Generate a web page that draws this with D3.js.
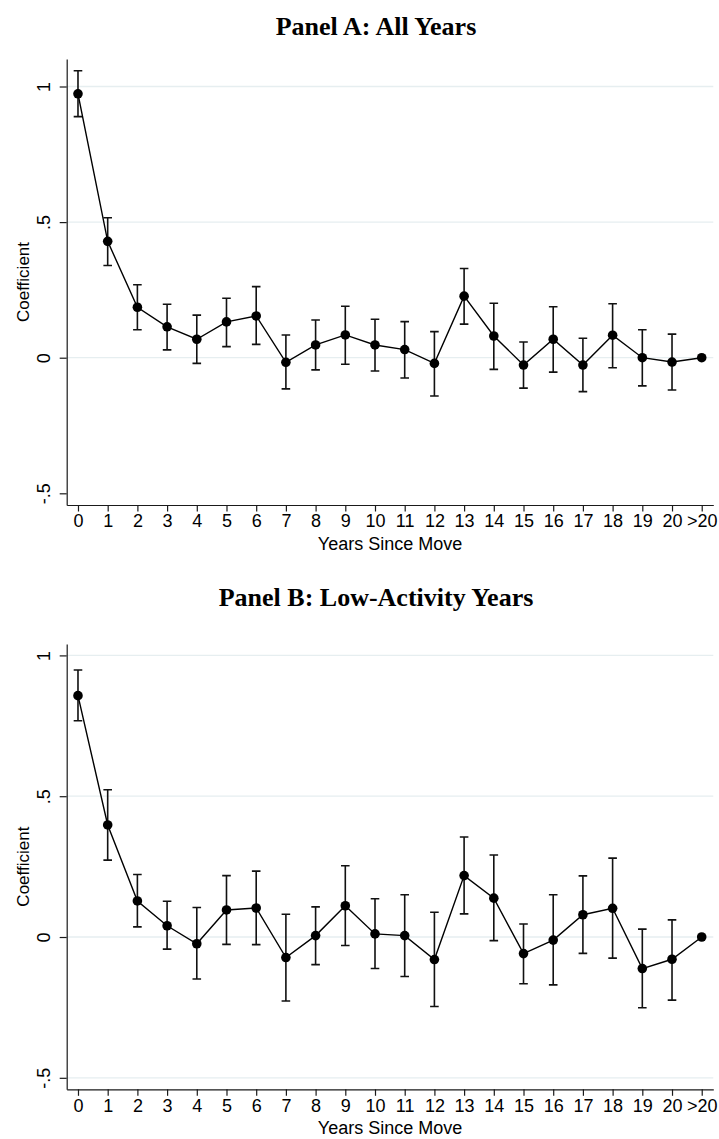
<!DOCTYPE html>
<html>
<head>
<meta charset="utf-8">
<script src="https://cdn.jsdelivr.net/npm/d3@7"></script>
<style>
  html, body { margin: 0; padding: 0; background: #fff; }
  svg { display: block; }
</style>
</head>
<body>
<svg id="chart" width="719" height="1139"></svg>
<script>
// ---- data ----
const categories = ["0","1","2","3","4","5","6","7","8","9","10","11","12","13","14","15","16","17","18","19","20",">20"];

const panelTitles = ["Panel A: All Years", "Panel B: Low-Activity Years"];

const panelA_coef = [0.973, 0.429, 0.186, 0.114, 0.068, 0.132, 0.154, -0.017, 0.047, 0.084, 0.047, 0.030, -0.021, 0.227, 0.080, -0.027, 0.068, -0.027, 0.083, 0.000, -0.016, 0];
const panelA_hi   = [1.058, 0.516, 0.269, 0.197, 0.157, 0.219, 0.262, 0.084, 0.139, 0.190, 0.142, 0.133, 0.096, 0.329, 0.201, 0.058, 0.188, 0.072, 0.199, 0.103, 0.087, null];
const panelA_lo   = [0.889, 0.340, 0.103, 0.029, -0.021, 0.041, 0.049, -0.115, -0.045, -0.024, -0.049, -0.075, -0.141, 0.124, -0.043, -0.112, -0.053, -0.125, -0.037, -0.104, -0.119, null];

const panelB_coef = [0.857, 0.398, 0.128, 0.040, -0.024, 0.096, 0.103, -0.073, 0.005, 0.111, 0.011, 0.005, -0.080, 0.218, 0.138, -0.059, -0.011, 0.079, 0.102, -0.112, -0.079, 0];
const panelB_hi   = [0.948, 0.523, 0.222, 0.127, 0.105, 0.218, 0.234, 0.081, 0.107, 0.253, 0.136, 0.150, 0.088, 0.355, 0.291, 0.046, 0.150, 0.217, 0.280, 0.028, 0.061, null];
const panelB_lo   = [0.768, 0.273, 0.036, -0.043, -0.149, -0.026, -0.027, -0.227, -0.098, -0.030, -0.112, -0.140, -0.247, 0.082, -0.013, -0.166, -0.170, -0.058, -0.075, -0.251, -0.224, null];

const yTickValues = [-0.5, 0, 0.5, 1];
const yTickLabels = ["-.5", "0", ".5", "1"];
const xAxisTitle = "Years Since Move";
const yAxisTitle = "Coefficient";

// ---- layout ----
const svg = d3.select("#chart");
const left = 66.7, right = 713.3;
const x = d3.scaleLinear().domain([-0.38, 21.39]).range([left, right]);

const panels = [
  { title: panelTitles[0], coef: panelA_coef, lo: panelA_lo, hi: panelA_hi,
    top: 59, bottom: 505, yDomain: [-0.5431, 1.1014], grid: [0, 0.5, 1], titleY: 35 },
  { title: panelTitles[1], coef: panelB_coef, lo: panelB_lo, hi: panelB_hi,
    top: 644, bottom: 1089.3, yDomain: [-0.5408, 1.0405], grid: [-0.5, 0, 0.5, 1], titleY: 606 }
];

const sans = "'Liberation Sans', Arial, Helvetica, sans-serif";
const serif = "'Liberation Serif', 'DejaVu Serif', serif";

panels.forEach(p => {
  const y = d3.scaleLinear().domain(p.yDomain).range([p.bottom, p.top]);
  const g = svg.append("g");

  // title
  g.append("text")
    .attr("x", 376).attr("y", p.titleY)
    .attr("text-anchor", "middle")
    .attr("font-family", serif).attr("font-weight", "bold")
    .attr("font-size", 26).attr("fill", "#000")
    .text(p.title);

  // gridlines
  g.append("g").selectAll("line").data(p.grid).join("line")
    .attr("x1", left).attr("x2", right)
    .attr("y1", d => y(d)).attr("y2", d => y(d))
    .attr("stroke", "#e6eef0").attr("stroke-width", 1.3);

  // y axis
  const yAxis = g.append("g").attr("transform", `translate(${left},0)`)
    .call(d3.axisLeft(y).tickValues(yTickValues)
      .tickFormat((d, i) => yTickLabels[i]).tickSize(7).tickPadding(0).tickSizeOuter(0));
  yAxis.select(".domain").attr("stroke", "#1a1a1a").attr("stroke-width", 1.2);
  yAxis.selectAll(".tick line").attr("stroke", "#1a1a1a").attr("stroke-width", 1.2);
  yAxis.selectAll(".tick text")
    .attr("x", 0).attr("y", 0).attr("dy", "0.36em")
    .attr("transform", "translate(-23,0) rotate(-90)")
    .attr("text-anchor", "middle")
    .attr("font-family", sans).attr("font-size", 18).attr("fill", "#000");

  // x axis
  const xAxis = g.append("g").attr("transform", `translate(0,${p.bottom})`)
    .call(d3.axisBottom(x).tickValues(d3.range(categories.length))
      .tickFormat(i => categories[i]).tickSize(6.5).tickPadding(3).tickSizeOuter(0));
  xAxis.select(".domain").attr("stroke", "#1a1a1a").attr("stroke-width", 1.2);
  xAxis.selectAll(".tick line").attr("stroke", "#1a1a1a").attr("stroke-width", 1.2);
  xAxis.selectAll(".tick text")
    .attr("font-family", sans).attr("font-size", 18).attr("fill", "#000");

  // axis titles
  g.append("text")
    .attr("transform", `translate(29,${(p.top + p.bottom) / 2}) rotate(-90)`)
    .attr("text-anchor", "middle")
    .attr("font-family", sans).attr("font-size", 17).attr("fill", "#000")
    .text(yAxisTitle);
  g.append("text")
    .attr("x", (left + right) / 2).attr("y", p.bottom + 44.5)
    .attr("text-anchor", "middle")
    .attr("font-family", sans).attr("font-size", 18).attr("fill", "#000")
    .text(xAxisTitle);

  const pts = p.coef.map((c, i) => ({ i, c, lo: p.lo[i], hi: p.hi[i] }));

  // error bars
  const eb = g.append("g").attr("stroke", "#111").attr("stroke-width", 1.6).attr("fill", "none");
  const withCI = pts.filter(d => d.lo !== null && d.hi !== null);
  eb.selectAll("path").data(withCI).join("path")
    .attr("d", d => {
      const cx = x(d.i), w = 4.3;
      return `M${cx},${y(d.hi)}V${y(d.lo)}` +
             `M${cx - w},${y(d.hi)}H${cx + w}` +
             `M${cx - w},${y(d.lo)}H${cx + w}`;
    });

  // connecting line
  g.append("path").datum(pts)
    .attr("fill", "none").attr("stroke", "#000").attr("stroke-width", 1.4)
    .attr("d", d3.line().x(d => x(d.i)).y(d => y(d.c)));

  // markers
  g.append("g").selectAll("circle").data(pts).join("circle")
    .attr("cx", d => x(d.i)).attr("cy", d => y(d.c)).attr("r", 4.8)
    .attr("fill", "#000");
});
</script>
</body>
</html>
